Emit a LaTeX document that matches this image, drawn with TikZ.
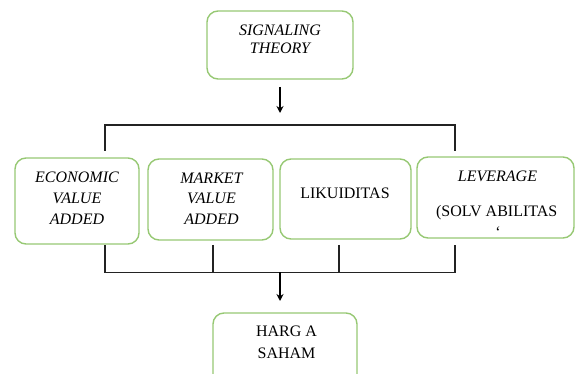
\documentclass[tikz,border=0pt]{standalone}
\usepackage{fontspec}
\setmainfont{Liberation Serif}
\usetikzlibrary{arrows.meta,calc}
\definecolor{boxgreen}{RGB}{150,200,115}
\definecolor{linegray}{RGB}{35,35,35}
\begin{document}
\begin{tikzpicture}[x=1pt,y=-1pt,
  box/.style={draw=boxgreen, line width=1.4pt, rounded corners=11pt, inner sep=0pt},
  conn/.style={draw=linegray, line width=1.9pt},
  arr/.style={draw=black, line width=1.5pt, -{Stealth[length=7pt,width=7pt]}},
  lbl/.style={font=\fontsize{16}{20.8}\selectfont, align=center, inner sep=0pt},
  lbltop/.style={font=\fontsize{16}{18}\selectfont\itshape, align=center, inner sep=0pt}]
\useasboundingbox (0,0) rectangle (576,374);
\clip (0,0) rectangle (576,374);
% boxes
\node[box, minimum width=146pt, minimum height=68pt] (top) at (280,45) {};
\node[box, minimum width=124pt, minimum height=86pt] (b1) at (77,201) {};
\node[box, minimum width=125pt, minimum height=81pt] (b2) at (210.5,199.5) {};
\node[box, minimum width=131pt, minimum height=80pt] (b3) at (345.5,199) {};
\node[box, minimum width=157pt, minimum height=81pt] (b4) at (495.5,197.5) {};
\node[box, minimum width=144pt, minimum height=82pt] (bot) at (285,354) {};
% texts
\node[lbltop] (ttop) at (280,39.5) {SIGNALING\\THEORY};
\node[lbl, font=\fontsize{16}{21}\selectfont\itshape] (t1) at (77,198) {ECONOMIC\\VALUE\\ADDED};
\node[lbl, font=\fontsize{16}{20.5}\selectfont\itshape] (t2) at (211.5,198.5) {MARKET\\VALUE\\ADDED};
\node[lbl] (t3) at (345,193) {LIKUIDITAS};
\node[lbl, font=\fontsize{16}{18}\selectfont\itshape] (t4a) at (497.5,176.5) {LEVERAGE};
\node[lbl, anchor=base] (t4b) at (496.7,216.3) {(SOLV ABILITAS};
\node[lbl, anchor=base] (t4c) at (498,238) {\symbol{96}};
\node[lbl, font=\fontsize{16}{21.5}\selectfont] (t5) at (286.5,342.5) {HARG A\\SAHAM};
% coordinates
\coordinate (a1) at (280,87);
\coordinate (a2) at (280,113);
\coordinate (s1) at (105,151);
\coordinate (s1b) at (105,125);
\coordinate (s4b) at (455,125);
\coordinate (s4) at (455,151);
\coordinate (u1) at (105,245);
\coordinate (u2) at (213,245);
\coordinate (u3) at (339,245);
\coordinate (u4) at (455,245);
\coordinate (v1) at (105,272.5);
\coordinate (v2) at (213,272.5);
\coordinate (v3) at (339,272.5);
\coordinate (v4) at (455,272.5);
\coordinate (w1) at (280,272.5);
\coordinate (w2) at (280,301);
% connectors
\draw[arr] (a1) -- (a2);
\draw[conn] (s1) -- (s1b) -- (s4b) -- (s4);
\draw[conn] (u1) -- (v1) -- (v4) -- (u4);
\draw[conn] (u2) -- (v2);
\draw[conn] (u3) -- (v3);
\draw[arr] (w1) -- (w2);
\end{tikzpicture}
\end{document}
